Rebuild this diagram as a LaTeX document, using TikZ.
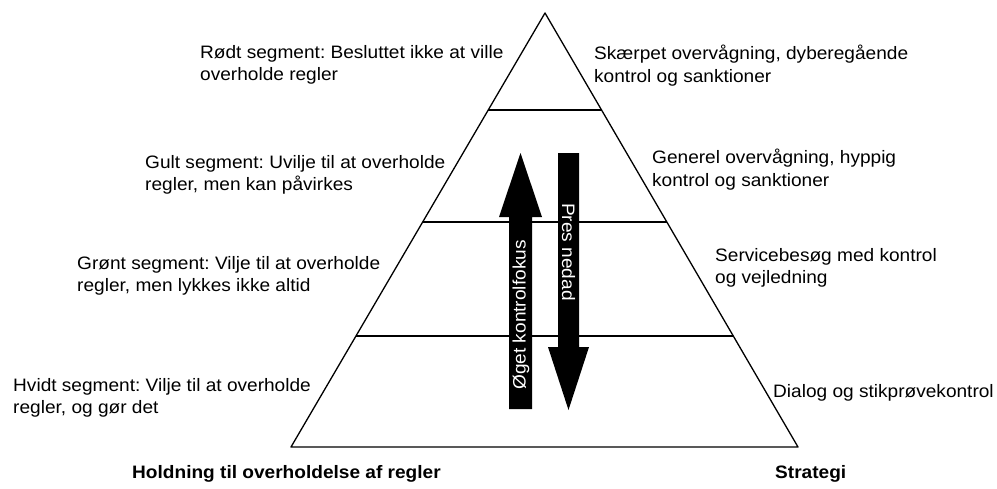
\documentclass[tikz,border=0pt]{standalone}
\usepackage{fontspec}
\setmainfont{Liberation Sans}[FakeStretch=1.06]
\usetikzlibrary{calc}
\frenchspacing
\begin{document}
\begin{tikzpicture}[x=1pt,y=-1pt,
  lbl/.style={font=\fontsize{18}{22.5}\selectfont, align=left, anchor=north west, inner sep=0pt},
  ttl/.style={font=\fontsize{18}{22.5}\selectfont\bfseries, anchor=base west, inner sep=0pt},
  edge/.style={line width=1.3pt, line join=round},
  bigarrow/.style={fill=black},
  arrowtxt/.style={text=white, font=\fontsize{18}{22.5}\selectfont, inner sep=0pt}]
\useasboundingbox (0,0) rectangle (997,488);
% pyramid
\coordinate (apex) at (545,13);
\coordinate (bl) at (291,447);
\coordinate (br) at (798,447);
\draw[edge] (bl) -- (apex) -- (br) -- cycle;
\coordinate (l1) at ($(apex)!0.2235!(bl)$);
\coordinate (r1) at ($(apex)!0.2235!(br)$);
\coordinate (l2) at ($(apex)!0.4816!(bl)$);
\coordinate (r2) at ($(apex)!0.4816!(br)$);
\coordinate (l3) at ($(apex)!0.7442!(bl)$);
\coordinate (r3) at ($(apex)!0.7442!(br)$);
\draw[edge] (l1) -- (r1);
\draw[edge] (l2) -- (r2);
\draw[edge] (l3) -- (r3);
% arrows
\fill[bigarrow] (509,409) -- (509,217) -- (499,217) -- (520.5,153) -- (542,217) -- (532,217) -- (532,409) -- cycle;
\fill[bigarrow] (558,153) -- (558,347) -- (548,347) -- (568.5,410) -- (589,347) -- (579,347) -- (579,153) -- cycle;
\node[arrowtxt, rotate=90] (up) at (521,315) {Øget kontrolfokus};
\node[arrowtxt, rotate=-90] (down) at (568.5,252) {Pres nedad};
% left labels
\node[lbl] (rodt) at (200,45) {Rødt segment: Besluttet ikke at ville\\overholde regler};
\node[lbl] (gult) at (145,155) {Gult segment: Uvilje til at overholde\\regler, men kan påvirkes};
\node[lbl] (gront) at (77,256) {Grønt segment: Vilje til at overholde\\regler, men lykkes ikke altid};
\node[lbl] (hvidt) at (13,378) {Hvidt segment: Vilje til at overholde\\regler, og gør det};
% right labels
\node[lbl] (skaerpet) at (594,45) {Skærpet overvågning, dyberegående\\kontrol og sanktioner};
\node[lbl] (generel) at (652,149) {Generel overvågning, hyppig\\kontrol og sanktioner};
\node[lbl] (service) at (715,248) {Servicebesøg med kontrol\\og vejledning};
\node[lbl] (dialog) at (773,384) {Dialog og stikprøvekontrol};
% titles
\node[ttl] (holdning) at (132,478) {Holdning til overholdelse af regler};
\node[ttl] (strategi) at (775,478) {Strategi};
\end{tikzpicture}
\end{document}
